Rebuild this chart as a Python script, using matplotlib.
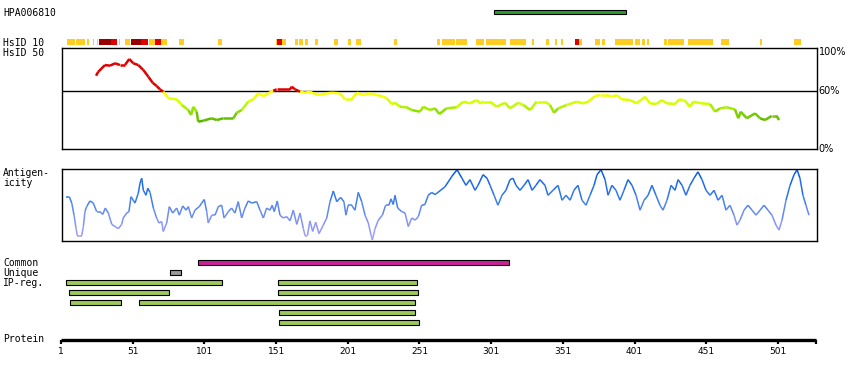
import numpy as np
import matplotlib
matplotlib.use('Agg')
import matplotlib.pyplot as plt
from matplotlib.collections import LineCollection
from matplotlib.colors import LinearSegmentedColormap

plt.rcParams['font.family'] = ['DejaVu Sans Mono']
plt.rcParams['font.size'] = 7

# ---- data (residue positions) ----
protein_length = 527
tick_res = [1, 51, 101, 151, 201, 251, 301, 351, 401, 451, 501]

antigen_name = 'HPA006810'
antigen_range = (303, 395)

# HsID 10 strip: (start, end)
hsid10_yellow = [(5.0, 10.8), (11.5, 17.7), (18.9, 20.7), (23.5, 24.2), (25.9, 26.6),
                 (41.2, 42.1), (45.6, 49.1), (62.2, 66.6), (70.7, 74.7), (83.3, 86.8),
                 (110.5, 113.3), (150.8, 151.8), (154.9, 155.6), (156.0, 157.9),
                 (164.2, 166.5), (167.2, 169.5), (171.2, 173.2), (178.3, 180.2),
                 (191.4, 194.2), (200.9, 203.2), (206.7, 210.2), (233.2, 235.5),
                 (263.0, 265.3), (266.5, 275.8), (276.5, 284.3), (290.4, 296.0),
                 (297.4, 311.3), (314.1, 325.3), (329.2, 330.6), (339.2, 341.1),
                 (345.5, 347.1), (349.5, 350.8), (362.0, 364.1), (373.4, 376.9),
                 (378.1, 380.4), (387.3, 400.1), (401.3, 404.8), (405.9, 408.2),
                 (409.4, 411.2), (421.7, 423.4), (424.5, 435.4), (438.4, 455.9),
                 (461.2, 466.6), (488.5, 489.9), (512.2, 516.8)]
hsid10_darkred = [(27.7, 35.7), (49.6, 56.6)]
hsid10_red = [(35.9, 39.8), (56.8, 61.9), (66.6, 70.5), (151.8, 154.9), (359.6, 362.0)]

# HsID 50 identity (%)
hsid50_res = [25.4, 27.0, 31.7, 35.2, 38.7, 42.1, 45.6, 48.6, 51.4, 54.9, 58.4, 61.9, 64.9,
              67.7, 70.0, 72.3, 75.8, 81.7, 85.2, 89.8, 91.7, 93.3, 95.6, 96.7, 100.2,
              106.1, 109.6, 114.2, 121.2, 123.5, 127.0, 131.6, 135.1, 138.6, 142.1, 145.6,
              149.0, 151.4, 160.7, 161.9, 164.2, 167.7, 171.2, 174.6, 176.9, 181.6, 186.3,
              189.8, 195.6, 199.0, 203.7, 207.2, 211.8, 216.5, 221.2, 225.8, 228.1, 231.6,
              233.9, 237.4, 242.1, 245.6, 251.3, 253.6, 258.3, 261.8, 264.8, 269.9, 276.9,
              281.5, 286.2, 290.9, 293.2, 295.5, 300.2, 304.8, 310.6, 314.1, 319.9, 323.4,
              328.1, 332.7, 338.5, 342.0, 344.8, 347.8, 353.6, 360.6, 365.2, 368.7, 373.4,
              376.9, 381.5, 385.0, 388.5, 392.0, 397.8, 402.5, 408.3, 411.7, 416.4, 419.9,
              423.4, 429.2, 432.2, 436.1, 439.6, 441.9, 447.8, 453.6, 457.1, 460.6, 465.2,
              471.0, 473.3, 475.0, 479.2, 485.0, 488.5, 491.9, 496.6, 500.1, 501.7]
hsid50_val = [75.4, 79.5, 86.4, 85.7, 88.2, 86.4, 86.4, 92.6, 88.2, 86.4, 81.3, 74.4, 68.2,
              64.8, 61.4, 59.0, 52.2, 51.1, 45.3, 40.1, 35.0, 43.5, 38.4, 28.1, 29.1,
              31.6, 29.8, 31.6, 31.6, 37.3, 40.1, 48.7, 51.1, 57.3, 54.5, 57.3,
              60.0, 61.4, 61.4, 64.1, 61.4, 59.0, 57.9, 59.0, 57.3, 55.6, 57.3,
              57.9, 57.3, 51.1, 51.1, 57.9, 55.6, 57.3, 55.6, 53.8, 52.2, 46.3,
              47.6, 43.5, 42.9, 40.1, 38.4, 43.5, 40.1, 41.9, 36.0, 41.9, 42.9,
              48.7, 47.0, 50.4, 47.0, 48.7, 48.7, 43.5, 47.6, 41.9, 47.6, 45.3,
              40.1, 48.7, 48.7, 45.3, 37.3, 41.9, 45.3, 48.7, 47.0, 48.7, 54.5,
              55.6, 55.6, 53.8, 55.6, 51.1, 50.4, 47.0, 53.8, 47.0, 46.3, 50.4,
              47.0, 46.3, 51.1, 49.7, 43.5, 48.7, 47.0, 46.3, 38.4, 41.9, 42.9,
              40.8, 31.6, 38.4, 31.6, 36.7, 31.6, 29.8, 34.0, 34.0, 29.8]

# antigenicity score (0-100)
antig_res = [4.5, 6.8, 8.5, 10.1, 11.5, 12.4, 15.4, 16.6, 17.7, 18.9, 21.2, 23.5, 25.9, 28.2,
             30.1, 31.9, 34.0, 36.4, 38.7, 41.0, 43.3, 44.4, 46.8, 48.4, 49.8, 52.6, 54.9,
             56.1, 57.3, 58.4, 60.3, 61.5, 63.1, 65.4, 67.7, 69.3, 71.2, 72.3, 74.7, 76.5,
             78.9, 81.7, 83.5, 85.9, 88.2, 89.8, 92.1, 94.4, 97.4, 99.1, 100.9, 102.6,
             103.7, 106.1, 108.4, 110.7, 113.1, 114.7, 117.7, 120.0, 122.3, 124.6, 127.0,
             129.3, 131.6, 134.0, 137.5, 139.8, 142.1, 144.4, 146.7, 148.3, 149.7, 151.8,
             153.7, 156.0, 158.4, 160.7, 163.0, 165.4, 167.7, 170.0, 171.2, 172.8, 174.6,
             176.5, 178.6, 180.9, 183.9, 186.3, 188.6, 190.9, 193.3, 196.0, 198.3, 199.7,
             201.3, 203.7, 206.0, 208.3, 210.7, 213.0, 215.3, 217.2, 218.1, 220.0, 222.3,
             225.1, 227.4, 229.7, 231.1, 232.7, 233.9, 235.8, 238.6, 240.9, 243.2, 245.6,
             247.9, 250.2, 252.5, 254.8, 257.1, 259.5, 261.8, 263.2, 268.8, 273.7, 277.2,
             280.6, 283.4, 286.2, 289.7, 291.8, 295.3, 298.1, 300.2, 303.0, 305.7, 308.5,
             311.3, 314.1, 316.2, 318.3, 321.1, 323.9, 326.7, 329.5, 332.2, 335.0, 338.5,
             340.6, 344.1, 347.6, 350.4, 353.2, 356.0, 358.7, 361.5, 364.3, 367.1, 369.9,
             372.7, 374.8, 377.6, 380.4, 382.5, 385.2, 388.0, 390.8, 393.6, 396.4, 399.2,
             402.0, 404.8, 407.6, 410.4, 413.1, 415.9, 418.7, 420.8, 423.6, 426.4, 429.2,
             431.3, 434.1, 436.8, 439.6, 442.4, 445.2, 448.0, 450.8, 453.6, 456.4, 459.2,
             462.0, 464.7, 467.5, 470.3, 472.4, 474.5, 477.3, 480.1, 482.9, 485.7, 488.5,
             491.3, 494.0, 496.8, 499.6, 501.7, 503.8, 506.6, 509.4, 512.2, 514.3, 516.3,
             518.4, 520.5, 522.6]
antig_val = [61, 61, 52, 35, 16, 6, 6, 19, 40, 47, 55, 52, 40, 40,
             36, 45, 38, 22, 19, 16, 22, 31, 38, 40, 61, 52, 66,
             80, 87, 70, 63, 73, 67, 45, 31, 24, 26, 12, 24, 47,
             38, 45, 35, 48, 42, 47, 31, 42, 47, 52, 57, 40,
             24, 35, 35, 47, 49, 31, 40, 45, 38, 54, 31,
             45, 55, 52, 54, 42, 31, 45, 42, 49, 40, 55,
             35, 31, 33, 27, 42, 22, 38, 16, 6, 6, 27,
             12, 25, 9, 21, 31, 54, 69, 54, 60, 54, 35,
             49, 49, 42, 67, 54, 35, 24, 7, 0, 16, 28,
             35, 49, 49, 58, 50, 63, 45, 40, 38, 19, 31,
             28, 33, 49, 50, 63, 67, 64, 66, 75, 90, 99,
             87, 77, 85, 70, 77, 92, 87, 77, 63, 49, 63,
             70, 85, 87, 77, 70, 77, 85, 70, 77, 85, 77,
             63, 70, 77, 56, 63, 56, 70, 77, 56, 49, 63,
             77, 92, 99, 85, 63, 77, 70, 56, 70, 85, 77,
             63, 42, 56, 63, 77, 63, 49, 42, 56, 77, 70,
             85, 77, 63, 77, 87, 96, 85, 70, 63, 70, 56,
             63, 42, 49, 35, 21, 28, 42, 49, 42, 35, 42,
             49, 42, 35, 21, 14, 28, 56, 77, 92, 99, 87,
             63, 49, 35]

common_range = (96.5, 313.4)
unique_range = (77, 85)
ipreg_rows = [[(4.7, 113.5), (152.5, 249.0)],
              [(6.8, 76.5), (152.5, 249.7)],
              [(7.5, 42.6), (55.6, 247.7)],
              [(153.2, 247.7)],
              [(153.2, 251.0)]]

# ---- layout helpers (pixels) ----
W, H = 850, 380
X0, PXR = 61.0, 1.434


def res_at(px):
    return (px - X0) / PXR + 1


def px_axes(fig, left, top, right, bottom):
    ax = fig.add_axes([left / W, 1 - bottom / H, (right - left) / W, (bottom - top) / H])
    ax.set_xlim(res_at(left), res_at(right))
    return ax


fig = plt.figure(figsize=(W / 100, H / 100), dpi=100)

base = px_axes(fig, 0, 0, W, H)
base.set_ylim(H, 0)
base.axis('off')

lx = res_at(3)
labels = [(antigen_name, 12.5), ('HsID 10', 42.5), ('HsID 50', 52.5), ('Antigen-', 172.5),
          ('icity', 183), ('Common', 262.5), ('Unique', 272.5), ('IP-reg.', 282.5),
          ('Protein', 339.5)]
for txt, y in labels:
    base.text(lx, y, txt, ha='left', va='center', fontsize=7)

# antigen bar
base.barh(12, antigen_range[1] - antigen_range[0], left=antigen_range[0], height=4.5,
          color='#2e9a2e', edgecolor='black', linewidth=0.8)

# HsID 10 strip
for segs, col in [(hsid10_yellow, '#ffcc22'), (hsid10_darkred, '#990000'), (hsid10_red, '#e00000')]:
    for a, b in segs:
        base.barh(42.2, b - a, left=a, height=5.5, color=col, linewidth=0)

# common / unique / ip-reg
base.barh(262.5, common_range[1] - common_range[0], left=common_range[0], height=4.5,
          color='#cc2299', edgecolor='black', linewidth=0.8)
base.barh(272.5, unique_range[1] - unique_range[0], left=unique_range[0], height=4.5,
          color='#999999', edgecolor='black', linewidth=0.8)
for i, row in enumerate(ipreg_rows):
    for a, b in row:
        base.barh(282.5 + 10 * i, b - a, left=a, height=4.5,
                  color='#9dc95b', edgecolor='black', linewidth=0.8)

# protein axis
base.hlines(339.5, 1, protein_length + 0.5, color='black', linewidth=2.4)
for t in tick_res + [protein_length + 0.5]:
    base.vlines(t, 339.5, 343.5, color='black', linewidth=1.6)
for t in tick_res:
    base.text(t, 351.5, str(t), ha='center', va='center', fontsize=6.5, family='DejaVu Sans')


def frame(ax):
    ax.set_xticks([])
    ax.set_yticks([])
    for s in ax.spines.values():
        s.set_linewidth(1.0)
        s.set_color('black')


# HsID 50 panel
ax1 = px_axes(fig, 61.5, 48.5, 816.5, 149.5)
ax1.set_ylim(-0.5, 103.4)
frame(ax1)
ax1.axhline(60, color='black', linewidth=1.0)
idcmap = LinearSegmentedColormap.from_list(
    'id', [(0.0, '#55b000'), (0.35, '#88dd00'), (0.6, '#ccff00'), (0.85, '#eeff00'), (1.0, '#ffff00')])
x = np.array(hsid50_res)
v = np.array(hsid50_val)
segs = np.stack([np.column_stack([x[:-1], v[:-1]]), np.column_stack([x[1:], v[1:]])], axis=1)
mid = (v[:-1] + v[1:]) / 2
cols = [('#e00000' if m >= 60 else idcmap(np.clip((m - 28) / 30, 0, 1))) for m in mid]
ax1.add_collection(LineCollection(segs, colors=cols, linewidths=1.8, capstyle='butt'))
for val, txt in [(100, '100%'), (60, '60%'), (0, '0%')]:
    ax1.text(1.003, val, txt, transform=ax1.get_yaxis_transform(), ha='left', va='center',
             fontsize=7, family='DejaVu Sans')

# antigenicity panel
ax2 = px_axes(fig, 61.5, 168.5, 816.5, 240.5)
ax2.set_ylim(-0.7, 100.7)
frame(ax2)
agcmap = LinearSegmentedColormap.from_list(
    'ag', [(0.0, '#aaa0ff'), (0.3, '#7f92f2'), (0.55, '#4080ea'), (1.0, '#0058e0')])
x = np.array(antig_res)
v = np.array(antig_val)
segs = np.stack([np.column_stack([x[:-1], v[:-1]]), np.column_stack([x[1:], v[1:]])], axis=1)
mid = (v[:-1] + v[1:]) / 2
ax2.add_collection(LineCollection(segs, colors=[agcmap(m / 100) for m in mid], linewidths=1.1))

fig.savefig('out.png', dpi=100)
